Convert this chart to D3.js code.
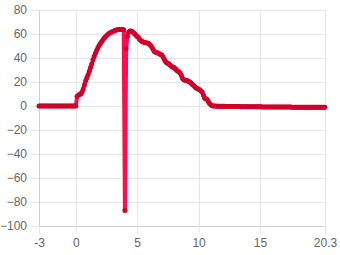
<!DOCTYPE html>
<html>
<head>
<meta charset="utf-8">
<script src="https://cdn.jsdelivr.net/npm/d3@7"></script>
<style>
  body { margin: 0; background: #fff; }
  #chart { width: 340px; height: 255px; }
  .tick text { font-family: "Liberation Sans", Arial, sans-serif; font-size: 12px; fill: #666; }
</style>
</head>
<body>
<div id="chart"></div>
<script>
// samples taken every 0.1 on x, starting at -3
var xStart = -3, xStep = 0.1;
var yValues = [
  0, 0, 0, 0, 0, 0, 0, 0, 0, 0,                          // -3.0 .. -2.1
  0, 0, 0, 0, 0, 0, 0, 0, 0, 0,                          // -2.0 .. -1.1
  0, 0, 0, 0, 0, 0, 0, 0, 0, 0,                          // -1.0 .. -0.1
  0, 8, 9, 9.5, 10, 11.5, 14, 17.5, 21, 23.5,            // 0.0 .. 0.9
  26, 29, 32, 35, 38.5, 41.5, 44, 46.5, 48.5, 50.5,      // 1.0 .. 1.9
  52, 53.5, 55, 56.5, 57.5, 58.5, 59.5, 60.5, 61, 61.5,  // 2.0 .. 2.9
  62, 62.5, 63, 63.3, 63.5, 63.7, 63.8, 63.8, 63.8, 63.5,// 3.0 .. 3.9
  -87, 48, 58, 61.5, 62.5, 62.5, 62, 61, 60, 59,         // 4.0 .. 4.9
  58, 57, 55.5, 54.5, 53.8, 53.3, 53, 52.8, 52.5, 52.2,  // 5.0 .. 5.9
  51.5, 50.5, 49, 47, 45.5, 44.8, 44.5, 44.2, 43.5, 43,  // 6.0 .. 6.9
  42.5, 41, 39, 37, 36, 35.5, 35, 34, 33, 32.5,          // 7.0 .. 7.9
  32, 31, 30, 29, 28.5, 27.5, 25.5, 23, 21.8, 21.5,      // 8.0 .. 8.9
  21.3, 21, 20.5, 20, 19, 18, 17, 16, 15, 14.5,          // 9.0 .. 9.9
  14, 13.5, 12.5, 11.5, 9, 6.5, 6, 5.5, 3.5, 2,          // 10.0 .. 10.9
  1, 0.3, 0, -0.1, -0.1, -0.2, -0.2, -0.2, -0.3, -0.3,   // 11.0 .. 11.9
  -0.3, -0.3, -0.4, -0.4, -0.4, -0.4, -0.4, -0.5, -0.5, -0.5,
  -0.5, -0.5, -0.5, -0.5, -0.6, -0.6, -0.6, -0.6, -0.6, -0.6,
  -0.6, -0.6, -0.7, -0.7, -0.7, -0.7, -0.7, -0.7, -0.7, -0.7,
  -0.7, -0.7, -0.8, -0.8, -0.8, -0.8, -0.8, -0.8, -0.8, -0.8,
  -0.8, -0.8, -0.8, -0.8, -0.9, -0.9, -0.9, -0.9, -0.9, -0.9,
  -0.9, -0.9, -0.9, -0.9, -0.9, -0.9, -1, -1, -1, -1,
  -1, -1, -1, -1, -1, -1, -1, -1, -1, -1,
  -1, -1, -1, -1, -1, -1, -1, -1, -1, -1,                // 19.0 .. 19.9
  -1, -1, -1, -1                                         // 20.0 .. 20.3
];
var xTicks = [-3, 0, 5, 10, 15, 20.3];
var yTicks = [-100, -80, -60, -40, -20, 0, 20, 40, 60, 80];

var margin = {top: 10, right: 15, bottom: 29, left: 39},
    width = 340 - margin.left - margin.right,
    height = 255 - margin.top - margin.bottom;

var data = yValues.map((v, i) => ({x: xStart + i * xStep, y: v}));

var xScale = d3.scaleLinear().domain([-3, 20.3]).range([0, width]);
var yScale = d3.scaleLinear().domain([-100, 80]).range([height, 0]);

var svg = d3.select('#chart').append('svg')
    .attr('width', 340).attr('height', 255)
  .append('g')
    .attr('transform', 'translate(' + margin.left + ',' + margin.top + ')');

// grid
svg.append('g').selectAll('line').data(yTicks).enter().append('line')
    .attr('x1', 0).attr('x2', width)
    .attr('y1', d => Math.round(yScale(d)) + 0.5).attr('y2', d => Math.round(yScale(d)) + 0.5)
    .attr('stroke', '#e6e6e6');
svg.append('g').selectAll('line').data(xTicks).enter().append('line')
    .attr('x1', d => Math.round(xScale(d)) + 0.5).attr('x2', d => Math.round(xScale(d)) + 0.5)
    .attr('y1', 0).attr('y2', height)
    .attr('stroke', '#e6e6e6');

// axes
var yAxis = svg.append('g')
    .call(d3.axisLeft(yScale).tickValues(yTicks).tickSize(8).tickPadding(4).tickSizeOuter(0));
var xAxis = svg.append('g')
    .attr('transform', 'translate(0,' + height + ')')
    .call(d3.axisBottom(xScale).tickValues(xTicks).tickFormat(d => d).tickSize(8).tickPadding(4).tickSizeOuter(0));
yAxis.selectAll('.tick line').attr('stroke', '#e6e6e6');
xAxis.selectAll('.tick line').attr('stroke', '#e6e6e6');
yAxis.select('.domain').attr('stroke', '#cfcfcf');
xAxis.select('.domain').attr('stroke', '#cfcfcf');

// series
var line = d3.line().x(d => xScale(d.x)).y(d => yScale(d.y));
svg.append('path')
    .datum(data)
    .attr('d', line)
    .attr('fill', 'none')
    .attr('stroke', '#ff0a55')
    .attr('stroke-width', 4)
    .attr('stroke-linejoin', 'round');

svg.append('g').selectAll('circle').data(data).enter().append('circle')
    .attr('cx', d => xScale(d.x))
    .attr('cy', d => yScale(d.y))
    .attr('r', 2.5)
    .attr('fill', '#d0002b');
</script>
</body>
</html>
